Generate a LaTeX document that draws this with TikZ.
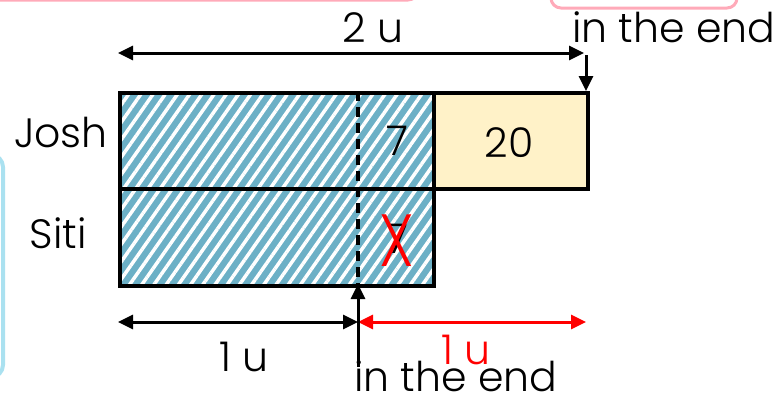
\documentclass[tikz,border=0pt]{standalone}
\usepackage{fontspec}
\setmainfont{Poppins Light}
\usetikzlibrary{arrows.meta,patterns.meta}
\definecolor{barblue}{RGB}{108,176,198}
\definecolor{boxyellow}{RGB}{255,242,200}
\definecolor{framepink}{RGB}{255,170,185}
\definecolor{framecyan}{RGB}{170,225,240}
\tikzset{
	bar/.style={draw, line width=3.5pt, inner sep=0pt, anchor=north west},
	hatched/.style={bar, preaction={fill=barblue}, preaction={pattern={Lines[angle=55,distance=10pt,line width=3.5pt]}, pattern color=white}},
	lbl/.style={inner sep=0pt, font=\fontsize{41}{43}\selectfont},
	dim/.style={line width=3pt, {Triangle[length=15pt,width=14pt]}-{Triangle[length=15pt,width=14pt]}},
	arr/.style={line width=3pt, -{Triangle[length=15pt,width=14pt]}}
}
\begin{document}
\begin{tikzpicture}[x=1pt,y=-1pt]
		\useasboundingbox (0,0) rectangle (773,400);
		% frames cut off at the edges
		\draw[framepink, line width=3pt, rounded corners=10pt] (-40,-40) rectangle (418,0);
		\draw[framepink, line width=3pt, rounded corners=10pt] (551,-40) rectangle (737,8);
		\draw[framecyan, line width=4pt, rounded corners=12pt] (-40,155) rectangle (3,377);
		% bars
		\node[hatched, minimum width=314pt, minimum height=96pt] (josh) at (118,91) {};
		\node[hatched, minimum width=314pt, minimum height=97pt] (siti) at (118,187) {};
		\node[bar, fill=boxyellow, minimum width=154pt, minimum height=96pt] (more) at (432,91) {};
		\coordinate (dtop) at (358,91);
		\coordinate (dbot) at (358,284);
		\draw[line width=3.5pt, dash pattern=on 10pt off 6pt] (dtop) -- (dbot);
		\node[lbl, anchor=base] (twenty) at (509,157) {20};
		\node[lbl, anchor=base] (sevenj) at (397,155) {7};
		\node[lbl, anchor=base] (sevens) at (397,253) {7};
		\node[inner sep=0pt, anchor=base, red, font=\fontsize{74}{74}\selectfont] (cross) at (397,266) {\scalebox{0.8}[1]{X}};
		\node[lbl, anchor=base east] (joshlbl) at (108,147) {Josh};
		\node[lbl, anchor=base] (sitilbl) at (58,248) {Siti};
		% top
		\coordinate (tl) at (118,53);
		\coordinate (tr) at (584,53);
		\draw[dim] (tl) -- (tr);
		\node[lbl, anchor=base] (twou) at (373,42) {2 u};
		\node[lbl, anchor=base west] (endtop) at (572,42) {in the end};
		\coordinate (ds) at (586,55);
		\draw[arr] (ds) -- (ds |- more.north);
		% bottom
		\coordinate (bl) at (118,322);
		\coordinate (bm) at (358,322);
		\coordinate (br) at (586,322);
		\draw[dim] (bl) -- (bm);
		\draw[dim, red] (bm) -- (br);
		\node[lbl, anchor=base] (oneu) at (244,371) {1 u};
		\node[lbl, anchor=base, red] (oneured) at (466,364) {1 u};
		\coordinate (us) at (358,367);
		\draw[arr] (us) -- (dbot);
		\node[lbl, anchor=base west] (endbot) at (354,391) {in the end};
	\end{tikzpicture}
\end{document}
